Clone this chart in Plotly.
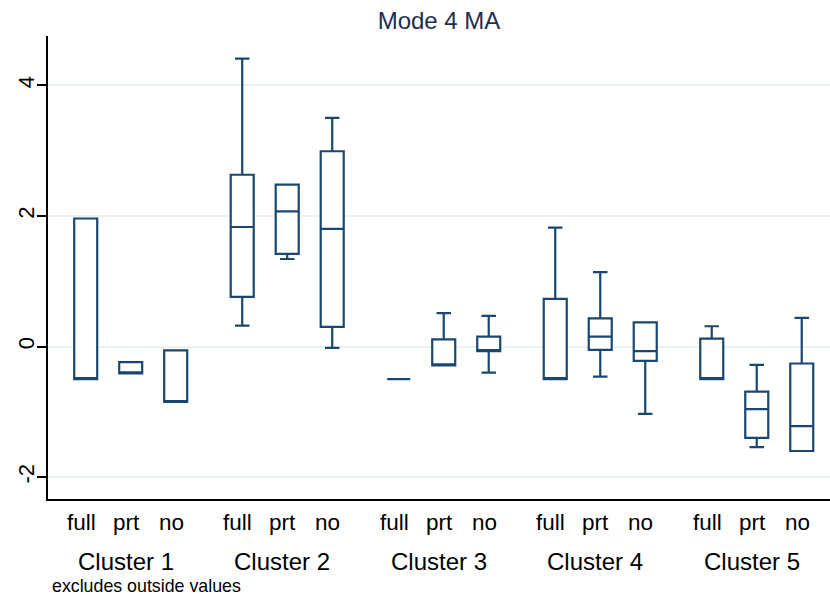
import plotly.graph_objects as go

clusters = ["Cluster 1", "Cluster 2", "Cluster 3", "Cluster 4", "Cluster 5"]
groups = ["full", "prt", "no"]

# per box, ordered cluster by cluster, group full/prt/no
lowerfence = [-0.50, -0.41, -0.85,  0.32, 1.34, -0.02, -0.50, -0.29, -0.40, -0.50, -0.46, -1.03, -0.50, -1.54, -1.60]
q1         = [-0.50, -0.41, -0.85,  0.76, 1.42,  0.30, -0.50, -0.29, -0.07, -0.50, -0.05, -0.22, -0.50, -1.40, -1.60]
median     = [-0.50, -0.41, -0.85,  1.83, 2.07,  1.80, -0.50, -0.29, -0.07, -0.50,  0.15, -0.07, -0.50, -0.96, -1.22]
q3         = [ 1.96, -0.24, -0.06,  2.63, 2.48,  2.99, -0.50,  0.11,  0.15,  0.73,  0.43,  0.37,  0.12, -0.69, -0.26]
upperfence = [ 1.96, -0.24, -0.06,  4.41, 2.48,  3.50, -0.50,  0.51,  0.47,  1.82,  1.14,  0.37,  0.31, -0.28,  0.44]

y_ticks = [-2, 0, 2, 4]

offsets = [-0.2875, 0.0, 0.2875]
xpos = [ci + 1 + off for ci in range(len(clusters)) for off in offsets]
xlabels = [g for _ in clusters for g in groups]

NAVY = "#1a476f"
FONT = "Liberation Sans, Arial, sans-serif"

plot_top, plot_bottom = 36, 499
def py_to_paper(py):
    return (plot_bottom - py) / (plot_bottom - plot_top)

fig = go.Figure()
fig.add_trace(go.Box(
    x=xpos, q1=q1, median=median, q3=q3,
    lowerfence=lowerfence, upperfence=upperfence,
    width=0.147, whiskerwidth=0.63,
    line=dict(color=NAVY, width=2.2), fillcolor="white",
    boxpoints=False, showlegend=False, hoverinfo="skip",
))

# group labels (slightly left of box centres, as in the reference)
for xp, lab in zip(xpos, xlabels):
    fig.add_annotation(x=xp, xshift=-4.5, y=py_to_paper(522), xref="x", yref="paper", text=lab,
                       showarrow=False, yanchor="middle",
                       font=dict(size=22.5, color="black", family=FONT))

for i, c in enumerate(clusters):
    fig.add_annotation(x=i + 1, xshift=-5, y=py_to_paper(561), xref="x", yref="paper", text=c,
                       showarrow=False, yanchor="middle",
                       font=dict(size=24, color="black", family=FONT))

fig.add_annotation(x=0, xref="paper", xshift=2, y=py_to_paper(586), yref="paper",
                   text="excludes outside values", showarrow=False, xanchor="left",
                   yanchor="middle", font=dict(size=17.8, color="black", family=FONT))

fig.update_layout(
    width=830, height=598,
    margin=dict(l=48, r=0, t=36, b=99, autoexpand=False),
    paper_bgcolor="white", plot_bgcolor="white",
    font=dict(family=FONT, color="black"),
    title=dict(text="Mode 4 MA", x=0.5 * (48 + 830) / 830, xanchor="center", y=1 - 21 / 598, yanchor="middle",
               font=dict(size=24, color="#1e2e50", family=FONT)),
    xaxis=dict(range=[0.4716, 5.468], showticklabels=False,
               showgrid=False, zeroline=False, showline=True, linecolor="black", linewidth=1.5,
               ticks="", automargin=False, fixedrange=True),
    yaxis=dict(range=[-2.335, 4.755], tickmode="array", tickvals=y_ticks,
               ticktext=[str(v) if v >= 0 else "-" + str(-v) for v in y_ticks],
               showgrid=True, gridcolor="#eaf2f3", gridwidth=1.5, zeroline=False,
               showline=True, linecolor="black", linewidth=1.5,
               ticks="outside", ticklen=9, tickwidth=1.5, tickcolor="black",
               tickangle=-90, tickfont=dict(size=22, color="black"), ticklabelstandoff=-6,
               automargin=False),
)

fig.write_html("out.html", config={"displayModeBar": False},
               post_script="document.body.style.margin='0';document.body.style.overflow='hidden';")
